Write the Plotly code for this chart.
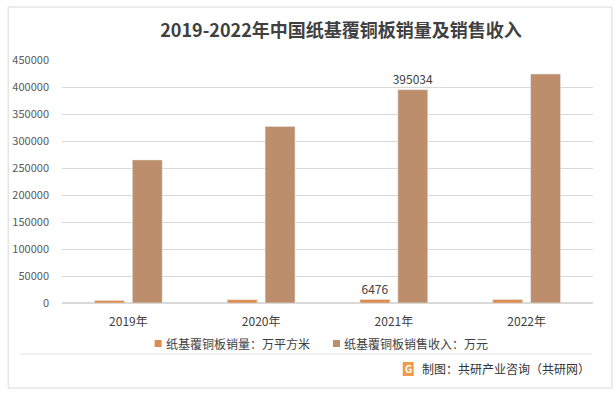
import plotly.graph_objects as go

categories = ["2019年", "2020年", "2021年", "2022年"]
sales_volume = [4600, 6100, 6476, 6300]
sales_revenue = [265000, 327000, 395034, 424000]
volume_labels = ["", "", "6476", ""]
revenue_labels = ["", "", "395034", ""]
name_volume = "纸基覆铜板销量：万平方米"
name_revenue = "纸基覆铜板销售收入：万元"
y_ticks = [0, 50000, 100000, 150000, 200000, 250000, 300000, 350000, 400000, 450000]

FONT = "Noto Sans CJK SC, Microsoft YaHei, sans-serif"
C_VOL = "#DC8C4C"
C_REV = "#BC8E6B"
W, H = 616, 396
L, R, T, B = 60, 593, 60, 303


def px(x):
    return (x - L) / (R - L)


def py(y):
    return (B - y) / (B - T)


fig = go.Figure()
fig.add_trace(go.Bar(
    x=categories, y=sales_volume, name=name_volume, showlegend=False,
    marker_color=C_VOL, text=volume_labels, textposition="outside", constraintext="none",
    textfont=dict(size=12, color="#404040", family=FONT), cliponaxis=False,
))
fig.add_trace(go.Bar(
    x=categories, y=sales_revenue, name=name_revenue, showlegend=False,
    marker_color=C_REV, text=revenue_labels, textposition="outside", constraintext="none",
    textfont=dict(size=12, color="#404040", family=FONT), cliponaxis=False,
))

shapes = [
    dict(type="rect", xref="paper", yref="paper", x0=px(6), x1=px(612), y0=py(7), y1=py(388),
         line=dict(color="#D9D9D9", width=1), fillcolor="rgba(0,0,0,0)", layer="below"),
    dict(type="line", xref="paper", yref="paper", x0=px(18), x1=px(592), y0=py(354), y1=py(354),
         line=dict(color="#E3E3E3", width=1)),
    dict(type="rect", xref="paper", yref="paper", x0=px(402), x1=px(413), y0=py(362), y1=py(376),
         line=dict(width=0), fillcolor="#F39A4A"),
    dict(type="rect", xref="paper", yref="paper", x0=px(153), x1=px(160), y0=py(340), y1=py(347),
         line=dict(width=0), fillcolor=C_VOL),
    dict(type="rect", xref="paper", yref="paper", x0=px(332), x1=px(339), y0=py(340), y1=py(347),
         line=dict(width=0), fillcolor=C_REV),
]

annotations = [
    dict(text="<b>G</b>", xref="paper", yref="paper", x=px(407.5), y=py(369), showarrow=False,
         font=dict(size=10, color="white", family=FONT), xanchor="center", yanchor="middle"),
    dict(text="制图：共研产业咨询（共研网）", xref="paper", yref="paper", x=px(592), y=py(368),
         showarrow=False, xanchor="right", yanchor="middle",
         font=dict(size=12, color="#333333", family=FONT)),
    dict(text=name_volume, xref="paper", yref="paper", x=px(162), y=py(343.5),
         showarrow=False, xanchor="left", yanchor="middle",
         font=dict(size=12, color="#404040", family=FONT)),
    dict(text=name_revenue, xref="paper", yref="paper", x=px(341), y=py(343.5),
         showarrow=False, xanchor="left", yanchor="middle",
         font=dict(size=12, color="#404040", family=FONT)),
]

fig.update_layout(
    width=W, height=H,
    margin=dict(l=L, r=W - R, t=T, b=H - B, pad=0),
    paper_bgcolor="white", plot_bgcolor="white",
    title=dict(text="<b>2019-2022年中国纸基覆铜板销量及销售收入</b>", x=341 / W, xanchor="center",
               y=1 - 31 / H, yanchor="middle", font=dict(size=18, color="#404040", family=FONT)),
    barmode="group", bargap=0.43, bargroupgap=0.21,
    font=dict(family=FONT, color="#595959"),
    xaxis=dict(showgrid=False, showline=False, ticks="", tickfont=dict(size=12, color="#404040"),
               ticklabelstandoff=10),
    yaxis=dict(range=[0, 450000], tickvals=y_ticks, ticktext=[str(v) for v in y_ticks],
               showgrid=True, gridcolor="#D9D9D9", gridwidth=1, zeroline=True, zerolinecolor="#D9D9D9",
               showline=False, ticks="", tickfont=dict(size=11, color="#595959"), ticklabelstandoff=12),
    showlegend=False,
    hovermode=False,
    shapes=shapes, annotations=annotations,
)

fig.write_html("out.html", config={"displayModeBar": False, "staticPlot": True},
               post_script="document.body.style.margin='0';document.body.style.overflow='hidden';")
